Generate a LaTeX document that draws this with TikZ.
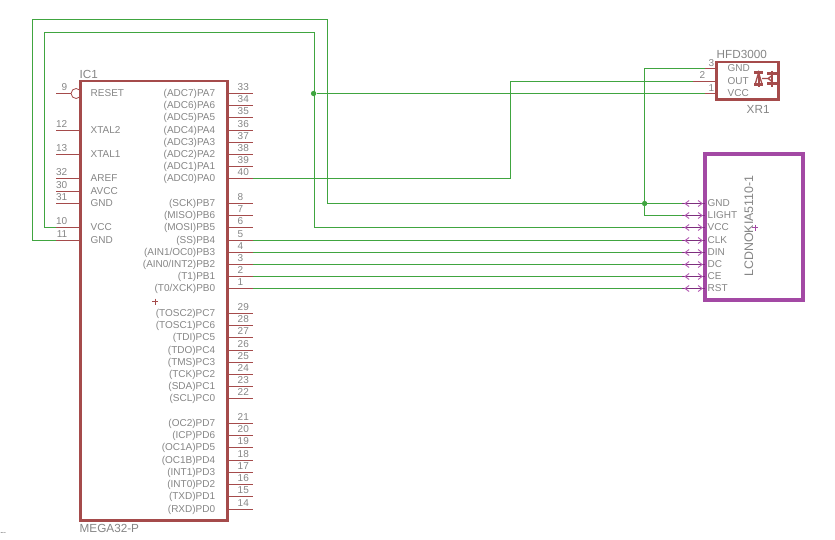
\documentclass[tikz,border=0pt]{standalone}
\usepackage{fontspec}
\setmainfont{Liberation Sans}
\usepackage{tikz}
\usetikzlibrary{positioning}
\definecolor{partred}{HTML}{A54B4B}
\definecolor{wiregreen}{HTML}{40A540}
\definecolor{lcdpurple}{HTML}{A349A4}
\definecolor{pindark}{HTML}{7D2F7D}
\definecolor{chevpurple}{HTML}{B45CB4}
\definecolor{textgrey}{HTML}{858585}
\tikzstyle{txt}=[inner sep=0pt,xshift=-.5pt,text=textgrey,font=\fontsize{7.5}{9}\selectfont]
\tikzstyle{bigtxt}=[inner sep=0pt,xshift=-.5pt,text=textgrey,font=\fontsize{8.8}{10}\selectfont]
\tikzstyle{icbox}=[draw=partred,line width=1.9pt,inner sep=0pt]
\tikzstyle{lcdbox}=[draw=lcdpurple,line width=3pt,inner sep=0pt]
\tikzstyle{pin}=[draw=partred,line width=.75pt]
\tikzstyle{wire}=[draw=wiregreen,line width=.75pt]
\tikzstyle{lcdpin}=[draw=pindark,line width=.75pt]
\tikzstyle{chev}=[draw=chevpurple,line width=.7pt]
\tikzstyle{junction}=[circle,fill=wiregreen,inner sep=0pt,minimum size=4pt]
\tikzstyle{cross}=[line width=.7pt]

\begin{document}
\begin{tikzpicture}[x=.75pt,y=-.75pt]
  \useasboundingbox (-.1,-.5) rectangle (834.9,538.5);

  \node[icbox,minimum width=110.25pt,minimum height=329.5pt] (ic1) at (154,300.2) {};
  \node[bigtxt,anchor=south west] (ic1name) at (80,78) {IC1};
  \node[bigtxt,anchor=north west] (ic1type) at (80,524) {MEGA32-P};

  \foreach \n/\y/\lab in {12/130/XTAL2,13/154/XTAL1,32/178/AREF,30/191/AVCC,31/203/GND,10/227/VCC,11/240/GND}{
    \coordinate (pl\n) at (56,\y);
    \draw[pin] (pl\n) -- (81,\y);
    \node[txt,anchor=base east] (nl\n) at (68,\y-3) {\n};
    \node[txt,anchor=west] (tl\n) at (91,\y) {\lab};
  }
  \coordinate (pl9) at (56,93);
  \node[circle,draw=partred,line width=.6pt,inner sep=0pt,minimum size=7.5pt] (inv9) at (76,93) {};
  \draw[pin] (pl9) -- (inv9);
  \node[txt,anchor=base east] (nl9) at (68,90) {9};
  \node[txt,anchor=west] (tl9) at (91,93) {RESET};

  \foreach \n/\y/\lab in {33/93/(ADC7)PA7,34/105/(ADC6)PA6,35/117/(ADC5)PA5,36/130/(ADC4)PA4,37/142/(ADC3)PA3,
    38/154/(ADC2)PA2,39/166/(ADC1)PA1,40/178/(ADC0)PA0,8/203/(SCK)PB7,7/215/(MISO)PB6,6/227/(MOSI)PB5,
    5/240/(SS)PB4,4/252/{(AIN1/OC0)PB3},3/264/{(AIN0/INT2)PB2},2/276/(T1)PB1,1/288/{(T0/XCK)PB0},
    29/313/(TOSC2)PC7,28/325/(TOSC1)PC6,27/337/(TDI)PC5,26/350/(TDO)PC4,25/362/(TMS)PC3,24/374/(TCK)PC2,
    23/386/(SDA)PC1,22/398/(SCL)PC0,21/423/(OC2)PD7,20/435/(ICP)PD6,19/447/(OC1A)PD5,18/460/(OC1B)PD4,
    17/472/(INT1)PD3,16/484/(INT0)PD2,15/496/(TXD)PD1,14/509/(RXD)PD0}{
    \coordinate (pr\n) at (253,\y);
    \draw[pin] (228,\y) -- (pr\n);
    \node[txt,anchor=base west] (nr\n) at (238,\y-3) {\n};
    \node[txt,anchor=east] (tr\n) at (216,\y) {\lab};
  }
  \draw[cross,partred] (152,301) -- (158,301) (155,298) -- (155,304);

  \node[icbox,line width=1.7pt,minimum width=46.5pt,minimum height=28pt] (xr1box) at (747.5,80.2) {};
  \node[bigtxt,anchor=base west] (xr1type) at (717,58) {HFD3000};
  \node[bigtxt,anchor=base west] (xr1name) at (747,113) {XR1};
  \foreach \n/\x/\y/\lab in {3/705/68/GND,2/693/81/OUT,1/705/93/VCC}{
    \coordinate (xr\n) at (\x,\y);
    \draw[pin] (xr\n) -- (717,\y);
    \node[txt,anchor=west] (txr\n) at (728,\y) {\lab};
  }
  \node[txt,anchor=base] (nxr3) at (712,66) {3};
  \node[txt,anchor=base] (nxr2) at (703,78) {2};
  \node[txt,anchor=base] (nxr1) at (712,91) {1};
  \draw[pin,line width=1.6pt] (754,72) -- (763,72) (754,84) -- (763,84) (758.5,70) -- (758.5,86)
    (767,73) -- (777,73) (767,83) -- (777,83) (772,70) -- (772,86);
  \draw[pin,line width=1pt] (755,84) -- (758.5,72) -- (762,84) (762,78) -- (768,78) (768,78) -- (772,75) (768,78) -- (772,81);

  \node[lcdbox,minimum width=73.5pt,minimum height=110pt] (lcd) at (753.5,226.5) {};
  \node[bigtxt,rotate=90,font=\fontsize{9.3}{10}\selectfont] (lcdname) at (749.5,225.5) {LCDNOKIA5110-1};
  \foreach \lab/\y in {GND/203,LIGHT/215,VCC/227,CLK/240,DIN/252,DC/264,CE/276,RST/288}{
    \coordinate (lcd\lab) at (682,\y);
    \draw[lcdpin] (lcd\lab) -- (705,\y);
    \draw[chev] (689,\y-3) -- (685,\y) -- (689,\y+3) (698,\y-3) -- (702,\y) -- (698,\y+3);
    \node[txt,anchor=west] (t\lab) at (708,\y) {\lab};
  }
  \draw[cross,lcdpurple] (752,227) -- (758,227) (755,224) -- (755,230);

  \coordinate (gnda) at (32,19);
  \coordinate (gndb) at (327,203);
  \coordinate (vcca) at (44,32);
  \coordinate (vccb) at (314,227);
  \coordinate (outb) at (510,81);
  \node[junction] (gndj) at (644.5,203) {};
  \node[junction] (vccj) at (313.5,93) {};

  \path[wire] (pl11) -| (gnda) -| (gndb) -- (lcdGND);
  \path[wire] (gndj) |- (xr3);
  \path[wire] (gndj) |- (lcdLIGHT);
  \path[wire] (pl10) -| (vcca) -| (vccb) -- (lcdVCC);
  \path[wire] (vccj) -- (xr1);
  \path[wire] (pr40) -| (outb) -- (xr2);
  \path[wire] (pr5) -- (lcdCLK);
  \path[wire] (pr4) -- (lcdDIN);
  \path[wire] (pr3) -- (lcdDC);
  \path[wire] (pr2) -- (lcdCE);
  \path[wire] (pr1) -- (lcdRST);

  \node[inner sep=0pt,anchor=base west,font=\fontsize{5}{6}\selectfont] (dots) at (0,533) {...};
\end{tikzpicture}
\end{document}
